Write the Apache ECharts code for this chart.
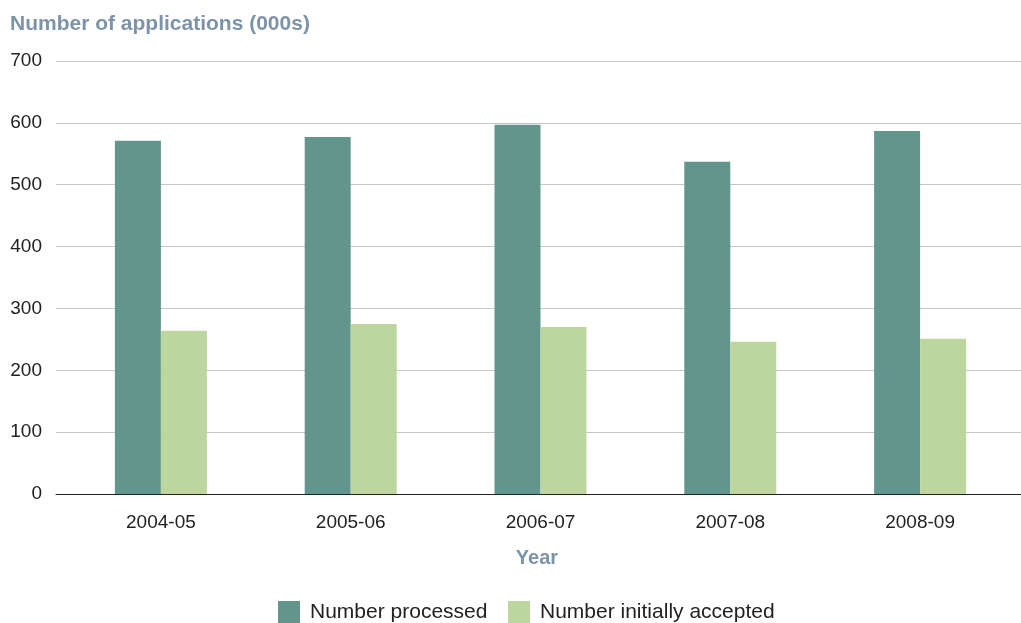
<!DOCTYPE html>
<html>
<head>
<meta charset="utf-8">
<script src="https://cdn.jsdelivr.net/npm/echarts@6/dist/echarts.min.js"></script>
<style>
  html, body { margin: 0; padding: 0; background: #fff; }
  #chart { width: 1021px; height: 623px; }
</style>
</head>
<body>
<div id="chart"></div>
<script>
// Applications per financial year (thousands)
const years = ['2004-05', '2005-06', '2006-07', '2007-08', '2008-09'];
const processed = [571, 577, 597, 537, 587];
const initiallyAccepted = [264, 275, 270, 246, 251];
const yTicks = [0, 100, 200, 300, 400, 500, 600, 700];

const FONT = '"Liberation Sans", Arial, sans-serif';
const TITLE_COLOR = '#7d93a8';
const TEXT_COLOR = '#222';

const legendBase = {
  top: 601, padding: 0,
  itemWidth: 22, itemHeight: 22,
  icon: 'rect',
  textStyle: { fontFamily: FONT, fontSize: 21, color: TEXT_COLOR, padding: [0, 0, 0, 5] }
};

const chart = echarts.init(document.getElementById('chart'), null, { renderer: 'canvas' });

chart.setOption({
  animation: false,
  textStyle: { fontFamily: FONT },
  title: [
    {
      text: 'Number of applications (000s)',
      left: 10, top: 14, padding: 0,
      textStyle: { fontFamily: FONT, fontSize: 21, fontWeight: 'bold', color: TITLE_COLOR }
    },
    {
      text: 'Year',
      left: 537, top: 548, padding: 0, textAlign: 'center',
      textStyle: { fontFamily: FONT, fontSize: 20, fontWeight: 'bold', color: TITLE_COLOR }
    }
  ],
  legend: [
    Object.assign({}, legendBase, { left: 278, data: ['Number processed'] }),
    Object.assign({}, legendBase, { left: 508, data: ['Number initially accepted'] })
  ],
  grid: [
    // frame: value gridlines and baseline
    { left: 56, right: 0, top: 61, bottom: 129 },
    // bars and category labels
    { left: 66, right: 6, top: 61, bottom: 129 }
  ],
  xAxis: [
    {
      gridIndex: 0, type: 'category', data: years,
      axisLine: { show: true, lineStyle: { color: '#222', width: 1 } },
      axisTick: { show: false }, axisLabel: { show: false }
    },
    {
      gridIndex: 1, type: 'category', data: years,
      axisLine: { show: false }, axisTick: { show: false },
      axisLabel: { fontFamily: FONT, fontSize: 19, color: TEXT_COLOR, margin: 19 }
    }
  ],
  yAxis: [
    {
      gridIndex: 0, type: 'value',
      min: yTicks[0], max: yTicks[yTicks.length - 1], interval: 100,
      axisLine: { show: false }, axisTick: { show: false },
      axisLabel: { fontFamily: FONT, fontSize: 19, color: TEXT_COLOR, margin: 14 },
      splitLine: { lineStyle: { color: '#c6c6c6', width: 1 } }
    },
    {
      gridIndex: 1, type: 'value',
      min: yTicks[0], max: yTicks[yTicks.length - 1], interval: 100,
      show: false, splitLine: { show: false }
    }
  ],
  series: [
    {
      name: 'Number processed', type: 'bar',
      xAxisIndex: 1, yAxisIndex: 1,
      data: processed, barWidth: 46, barGap: '0%',
      itemStyle: { color: '#62968c' }
    },
    {
      name: 'Number initially accepted', type: 'bar',
      xAxisIndex: 1, yAxisIndex: 1,
      data: initiallyAccepted, barWidth: 46, barGap: '0%',
      itemStyle: { color: '#bdd59f' }
    }
  ]
});
</script>
</body>
</html>
